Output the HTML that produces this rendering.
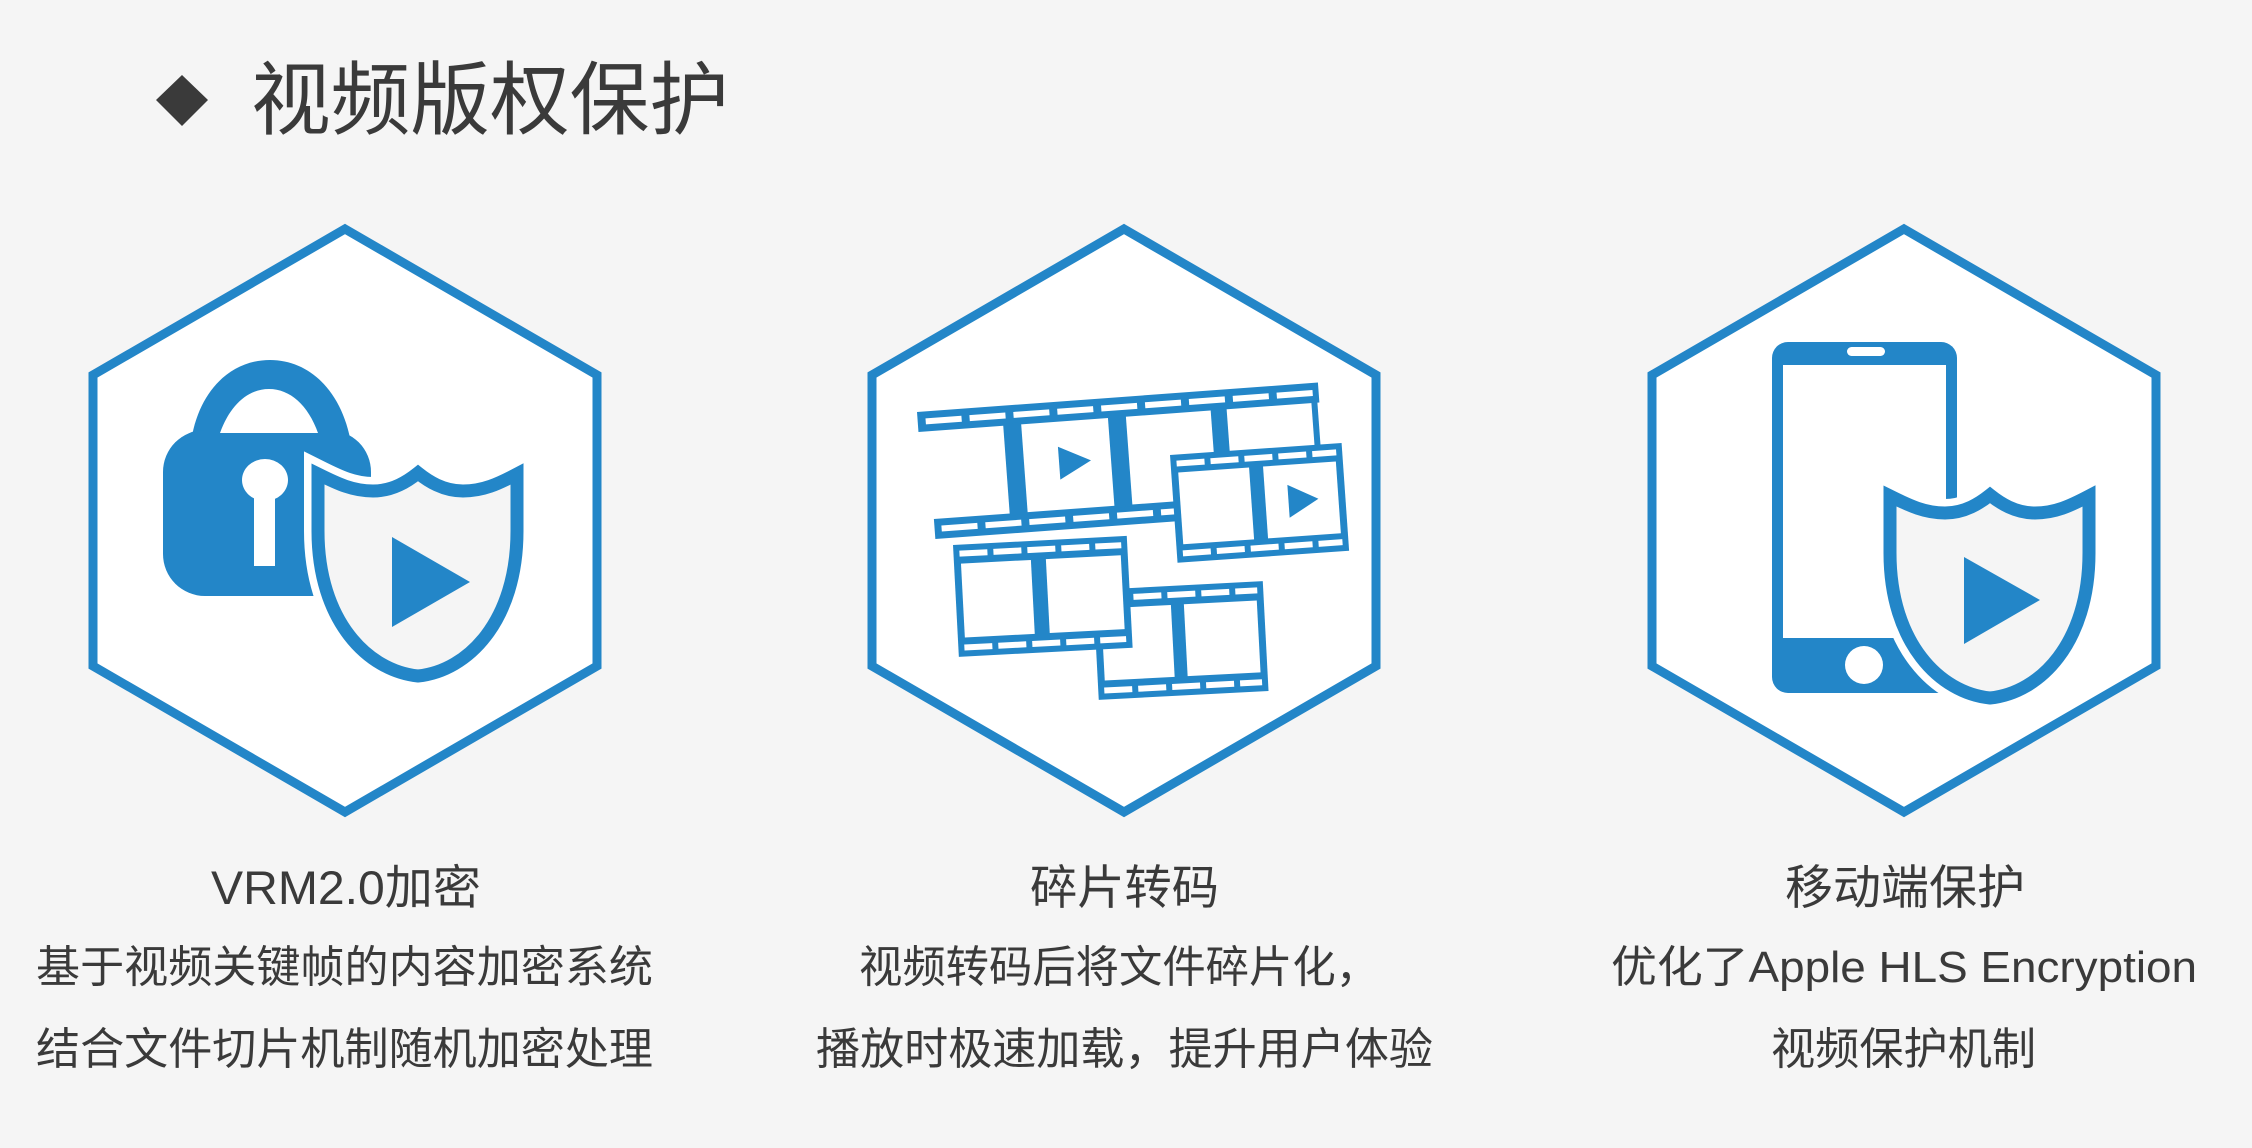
<!DOCTYPE html>
<html><head><meta charset="utf-8"><style>
html,body{margin:0;padding:0;background:#f5f5f5;}
svg{display:block;}
text{font-family:"Liberation Sans","Noto Sans CJK SC",sans-serif;fill:#3a3a3a;}
</style></head><body>
<svg width="2252" height="1148" viewBox="0 0 2252 1148" xmlns="http://www.w3.org/2000/svg">
<defs>
<path id="shield" d="M-100,7 C-80,17 -65,24 -45,24 C-25,24 -10,14 0,6 C10,14 25,24 45,24 C65,24 80,17 99,7 L99,64 C99,154 50,204 0,209 C-50,204 -100,154 -100,64 Z"/>
<g id="dashes">
</g>
</defs>
<rect width="2252" height="1148" fill="#f5f5f5"/>
<!-- title -->
<polygon points="182,75 208,100 182,126 156,100" fill="#3a3a3a"/>
<text x="251" y="128" font-size="80" textLength="478" lengthAdjust="spacingAndGlyphs">视频版权保护</text>

<!-- hexagons -->
<g fill="#fff" stroke="#2386c8" stroke-width="9" stroke-linejoin="miter">
<polygon points="345,229 597,375 597,666 345,812 93,666 93,375"/>
<polygon points="1124,229 1376,375 1376,666 1124,812 872,666 872,375"/>
<polygon points="1904,229 2156,375 2156,666 1904,812 1652,666 1652,375"/>
</g>

<!-- lock icon -->
<g fill="#2386c8">
<path d="M190,450 C195,395 228,360 270,360 C312,360 345,395 352,450 Z"/>
<rect x="163" y="430" width="208" height="166" rx="42"/>
<path d="M220,433 C230,405 248,389 269,389 C290,389 308,405 318,433 Z" fill="#fff"/>
<ellipse cx="265" cy="480" rx="23" ry="21" fill="#fff"/>
<rect x="254" y="480" width="21" height="86" fill="#fff"/>
</g>
<g transform="translate(418,467)">
<use href="#shield" fill="#fff" stroke="#fff" stroke-width="28"/>
<use href="#shield" fill="#f5f5f5" stroke="#2386c8" stroke-width="13"/>
</g>
<polygon points="392,537 392,627 470,582" fill="#2386c8"/>

<!-- phone icon -->
<rect x="1772" y="342" width="185" height="351" rx="16" fill="#2386c8"/>
<rect x="1783" y="365" width="163" height="273" fill="#fff"/>
<rect x="1847" y="347" width="38" height="9" rx="4.5" fill="#fff"/>
<circle cx="1864" cy="665" r="19" fill="#fff"/>
<g transform="translate(1990,489)">
<use href="#shield" fill="#fff" stroke="#fff" stroke-width="28"/>
<use href="#shield" fill="#f5f5f5" stroke="#2386c8" stroke-width="13"/>
</g>
<polygon points="1964,557 1964,644 2040,600" fill="#2386c8"/>

<!-- film strips -->
<g id="filmA" transform="translate(917,412) rotate(-4.2)">
<rect x="0" y="0" width="402" height="20" fill="#2386c8"/>
<rect x="9" y="108" width="393" height="20" fill="#2386c8"/>
<g fill="#fff">
<rect x="8" y="7" width="36" height="6"/><rect x="52" y="7" width="36" height="6"/><rect x="96" y="7" width="36" height="6"/><rect x="140" y="7" width="36" height="6"/><rect x="184" y="7" width="36" height="6"/><rect x="228" y="7" width="36" height="6"/><rect x="272" y="7" width="36" height="6"/><rect x="316" y="7" width="36" height="6"/><rect x="360" y="7" width="36" height="6"/>
<rect x="16" y="115" width="36" height="6"/><rect x="60" y="115" width="36" height="6"/><rect x="104" y="115" width="36" height="6"/><rect x="148" y="115" width="36" height="6"/><rect x="192" y="115" width="36" height="6"/><rect x="236" y="115" width="36" height="6"/>
</g>
<rect x="85" y="18" width="18" height="92" fill="#2386c8"/>
<rect x="190" y="18" width="18" height="92" fill="#2386c8"/>
<rect x="293" y="18" width="16" height="92" fill="#2386c8"/>
<rect x="394" y="18" width="6" height="92" fill="#2386c8"/>
<polygon points="138,45 138,78 170,61" fill="#2386c8"/>
</g>

<g transform="translate(1170,455) rotate(-4)">
<rect x="0" y="0" width="172" height="108" fill="#2386c8"/>
<rect x="7" y="18" width="71" height="72" fill="#fff"/>
<rect x="92" y="18" width="73" height="72" fill="#fff"/>
<g fill="#fff">
<rect x="6" y="6" width="28" height="6"/><rect x="40" y="6" width="28" height="6"/><rect x="74" y="6" width="28" height="6"/><rect x="108" y="6" width="28" height="6"/><rect x="142" y="6" width="24" height="6"/>
<rect x="6" y="96" width="28" height="6"/><rect x="40" y="96" width="28" height="6"/><rect x="74" y="96" width="28" height="6"/><rect x="108" y="96" width="28" height="6"/><rect x="142" y="96" width="24" height="6"/>
</g>
<polygon points="115,38 115,71 145,54" fill="#2386c8"/>
</g>

<g transform="translate(1093,590) rotate(-3)">
<rect x="0" y="0" width="170" height="110" fill="#2386c8"/>
<rect x="7" y="19" width="70" height="72" fill="#fff"/>
<rect x="90" y="19" width="73" height="72" fill="#fff"/>
<g fill="#fff">
<rect x="6" y="6" width="28" height="6"/><rect x="40" y="6" width="28" height="6"/><rect x="74" y="6" width="28" height="6"/><rect x="108" y="6" width="28" height="6"/><rect x="142" y="6" width="22" height="6"/>
<rect x="6" y="98" width="28" height="6"/><rect x="40" y="98" width="28" height="6"/><rect x="74" y="98" width="28" height="6"/><rect x="108" y="98" width="28" height="6"/><rect x="142" y="98" width="22" height="6"/>
</g>
</g>

<g transform="translate(953,545) rotate(-3)">
<rect x="0" y="0" width="174" height="112" fill="#2386c8"/>
<rect x="7" y="19" width="70" height="74" fill="#fff"/>
<rect x="92" y="19" width="75" height="74" fill="#fff"/>
<g fill="#fff">
<rect x="6" y="6" width="28" height="6"/><rect x="40" y="6" width="28" height="6"/><rect x="74" y="6" width="28" height="6"/><rect x="108" y="6" width="28" height="6"/><rect x="142" y="6" width="26" height="6"/>
<rect x="6" y="100" width="28" height="6"/><rect x="40" y="100" width="28" height="6"/><rect x="74" y="100" width="28" height="6"/><rect x="108" y="100" width="28" height="6"/><rect x="142" y="100" width="26" height="6"/>
</g>
</g>

<!-- captions -->
<text x="211" y="904" font-size="47" textLength="270" lengthAdjust="spacingAndGlyphs">VRM2.0加密</text>
<text x="36" y="982" font-size="44" textLength="617" lengthAdjust="spacingAndGlyphs">基于视频关键帧的内容加密系统</text>
<text x="36" y="1064" font-size="44" textLength="617" lengthAdjust="spacingAndGlyphs">结合文件切片机制随机加密处理</text>

<text x="1030" y="904" font-size="47" textLength="189" lengthAdjust="spacingAndGlyphs">碎片转码</text>
<text x="859" y="982" font-size="44" textLength="520" lengthAdjust="spacingAndGlyphs">视频转码后将文件碎片化，</text>
<text x="816" y="1064" font-size="44" textLength="617" lengthAdjust="spacingAndGlyphs">播放时极速加载，提升用户体验</text>

<text x="1785" y="904" font-size="47" textLength="240" lengthAdjust="spacingAndGlyphs">移动端保护</text>
<text x="1611" y="982" font-size="44" textLength="586" lengthAdjust="spacingAndGlyphs">优化了Apple HLS Encryption</text>
<text x="1771" y="1064" font-size="44" textLength="265" lengthAdjust="spacingAndGlyphs">视频保护机制</text>
</svg>
</body></html>
